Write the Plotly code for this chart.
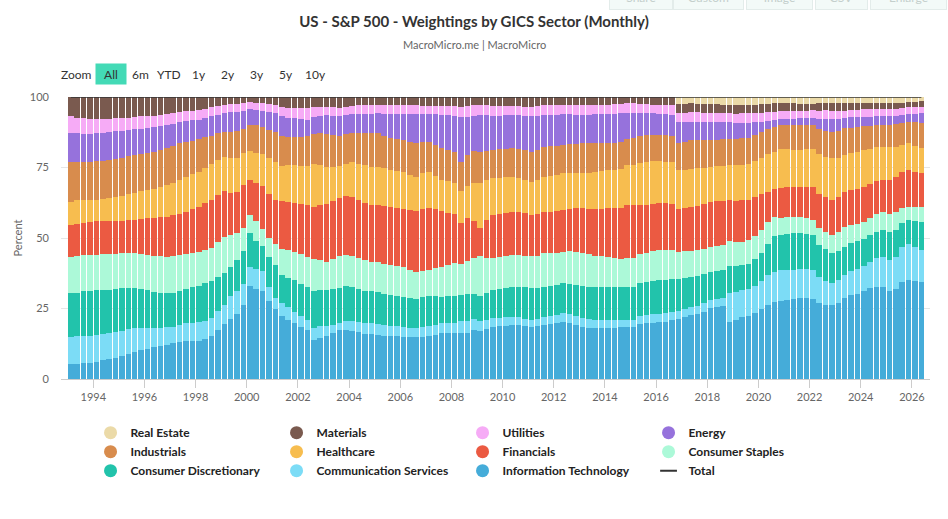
import pandas as pd
import plotly.graph_objects as go

# S&P 500 sector weights in %, one value per quarter, 1993Q1 .. 2026Q2
info_tech = [
    5.3, 5.4, 5.6, 5.8,  6.2, 6.8, 7.2, 7.6,  8.2, 8.9, 9.6, 10.2,  10.7, 11.3, 11.8, 12.2,
    12.6, 13.1, 13.4, 13.4,  13.6, 14.2, 15.2, 17.5,  19.4, 21.2, 23.2, 26.5,  33.0, 32.0, 31.2, 27.5,
    24.8, 22.3, 21.0, 19.8,  18.6, 17.2, 13.8, 14.5,  15.2, 16.2, 17.3, 17.6,  17.0, 16.5, 16.0, 15.8,
    15.5, 15.3, 15.2, 15.1,  15.0, 14.9, 15.0, 15.1,  15.3, 15.8, 16.3, 16.6,  16.4, 16.5, 16.5, 17.3,
    17.0, 17.8, 18.6, 18.8,  19.0, 19.1, 18.9, 18.7,  18.6, 18.7, 19.1, 19.3,  19.8, 20.3, 20.1, 19.2,
    18.5, 18.2, 18.0, 18.0,  18.0, 18.2, 18.5, 18.4,  18.3, 19.5, 19.8, 20.0,  20.1, 20.3, 20.9, 21.0,
    21.8, 22.5, 23.0, 23.8,  25.0, 25.5, 26.0, 20.3,  21.0, 22.0, 22.5, 23.5,  25.2, 26.5, 27.5, 27.8,
    28.0, 28.5, 28.8, 29.0,  28.5, 27.0, 26.5, 26.2,  27.0, 28.6, 29.5, 30.0,  31.0, 32.0, 32.5, 32.7,
    31.0, 31.5, 34.5, 35.0,  34.8, 34.5,
]
comm_services = [
    9.7, 9.8, 9.8, 9.6,  9.5, 9.2, 9.0, 9.0,  9.0, 8.9, 8.6, 7.9,  7.4, 6.9, 6.4, 6.1,
    6.0, 6.2, 6.4, 6.5,  6.5, 6.6, 6.6, 6.6,  6.8, 8.0, 8.2, 7.5,  6.6, 7.0, 7.0, 5.0,
    4.0, 4.6, 4.5, 4.1,  3.8, 3.5, 4.1, 4.1,  3.6, 3.0, 2.6, 3.2,  3.5, 3.6, 3.8, 4.0,
    4.0, 3.9, 3.7, 3.6,  3.5, 3.2, 3.0, 3.3,  3.4, 3.5, 3.5, 3.5,  3.6, 4.0, 4.0, 4.0,
    3.6, 3.2, 2.9, 2.9,  3.0, 3.0, 2.9, 2.7,  2.4, 2.6, 3.0, 3.0,  3.0, 3.0, 3.1, 3.2,
    3.2, 3.1, 3.0, 2.9,  2.9, 2.8, 2.7, 2.6,  2.6, 2.9, 3.0, 3.0,  3.0, 3.0, 3.0, 2.9,
    2.9, 2.9, 2.9, 2.9,  2.9, 2.9, 2.8, 10.6,  10.2, 9.6, 9.5, 9.8,  10.0, 10.5, 10.6, 10.7,
    10.6, 10.3, 10.3, 10.4,  10.4, 9.0, 8.5, 7.7,  7.9, 8.4, 8.6, 8.7,  8.8, 9.4, 10.2, 10.7,
    11.0, 11.2, 12.2, 12.8,  12.0, 11.2,
]
cons_discretionary = [
    15.4, 15.5, 15.7, 16.0,  16.0, 15.7, 15.4, 15.2,  15.0, 14.6, 14.2, 13.8,  13.4, 12.8, 12.3, 12.0,
    12.0, 12.0, 12.2, 12.6,  13.0, 13.4, 13.0, 12.0,  11.2, 10.6, 10.8, 11.4,  12.0, 10.0, 9.0, 10.5,
    11.5, 9.8, 10.5, 11.2,  11.5, 11.8, 12.8, 12.8,  12.5, 12.5, 12.5, 12.2,  12.0, 11.8, 11.5, 11.3,
    11.3, 11.0, 10.8, 10.7,  10.6, 10.6, 10.6, 10.6,  10.6, 10.2, 9.6, 9.5,  9.5, 9.5, 9.5, 9.0,
    9.0, 9.4, 10.1, 10.3,  10.5, 10.6, 10.8, 11.1,  11.3, 11.0, 10.6, 10.6,  10.6, 10.6, 10.8, 11.0,
    11.2, 11.4, 11.6, 11.8,  11.8, 11.8, 11.8, 11.8,  11.8, 11.8, 11.8, 11.8,  11.8, 11.8, 11.5, 11.3,
    11.0, 10.7, 10.5, 10.3,  10.1, 10.0, 10.0, 9.6,  9.2, 8.8, 9.0, 9.6,  10.0, 11.3, 12.5, 12.4,
    12.6, 13.0, 12.8, 12.5,  12.4, 11.5, 11.3, 10.7,  10.3, 10.0, 9.8, 9.6,  9.5, 9.3, 9.4, 9.6,
    9.8, 9.5, 8.6, 8.5,  9.2, 10.1,
]
cons_staples = [
    13.0, 13.0, 12.9, 12.7,  12.5, 12.6, 12.8, 12.7,  12.5, 12.2, 12.1, 12.3,  12.5, 12.8, 12.9, 13.0,
    13.0, 12.7, 12.5, 12.2,  12.0, 11.6, 11.6, 12.2,  12.5, 11.0, 9.8, 8.2,  6.5, 7.0, 6.0, 6.6,
    7.5, 9.2, 9.8, 10.2,  10.5, 10.8, 11.2, 10.5,  10.0, 10.6, 11.2, 11.3,  11.3, 11.0, 10.8, 10.6,
    10.6, 10.6, 10.6, 10.6,  10.5, 10.0, 9.5, 9.5,  9.5, 10.0, 10.6, 11.0,  11.5, 11.0, 12.0, 13.0,
    14.0, 12.5, 11.2, 11.2,  11.3, 11.3, 11.2, 11.2,  11.2, 11.5, 11.9, 11.6,  11.3, 11.3, 11.6, 11.9,
    11.9, 11.5, 11.0, 10.7,  10.7, 10.5, 10.2, 10.1,  10.1, 10.1, 10.3, 10.5,  10.6, 10.6, 10.2, 9.6,
    9.5, 9.4, 9.2, 9.0,  8.8, 8.8, 8.9, 8.9,  8.6, 8.3, 8.3, 8.3,  8.3, 7.6, 6.8, 6.2,
    5.9, 5.9, 5.8, 5.6,  5.5, 6.0, 6.3, 6.5,  6.8, 7.1, 6.5, 6.0,  5.9, 6.0, 6.3, 6.5,
    6.2, 6.0, 5.3, 4.8,  5.0, 5.3,
]
financials = [
    11.2, 11.2, 11.4, 11.7,  11.8, 11.8, 11.7, 11.6,  11.5, 11.7, 12.0, 12.6,  13.0, 13.4, 13.9, 14.2,
    14.5, 14.6, 14.7, 15.3,  16.0, 16.8, 17.3, 16.8,  16.5, 15.0, 14.5, 15.5,  12.5, 13.5, 15.0, 15.4,
    15.5, 17.0, 17.2, 17.2,  17.8, 18.3, 18.3, 19.2,  20.5, 20.7, 20.7, 20.7,  20.9, 20.6, 20.3, 20.2,
    20.1, 20.3, 20.5, 20.7,  20.8, 21.2, 21.5, 21.8,  21.8, 20.8, 19.8, 18.8,  17.5, 14.5, 15.0, 13.0,
    10.0, 13.5, 15.4, 15.4,  15.3, 15.3, 15.1, 15.0,  14.8, 14.8, 14.7, 14.7,  14.7, 14.7, 15.0, 15.5,
    15.9, 16.3, 16.7, 17.0,  17.1, 17.5, 18.2, 18.7,  18.9, 17.5, 17.0, 16.8,  16.7, 16.6, 16.5, 15.0,
    15.0, 15.4, 15.6, 15.8,  16.0, 15.8, 15.6, 14.8,  14.8, 14.8, 14.5, 14.0,  13.0, 11.0, 10.2, 10.4,
    10.6, 10.6, 10.8, 11.2,  11.8, 12.0, 12.3, 12.4,  12.4, 12.4, 12.4, 12.4,  12.4, 12.0, 11.6, 11.3,
    12.0, 12.5, 13.0, 13.0,  12.5, 11.8,
]
health_care = [
    8.4, 8.5, 8.2, 7.8,  7.7, 7.8, 8.0, 8.5,  9.0, 9.3, 9.5, 9.8,  10.0, 10.4, 10.8, 11.2,
    11.5, 12.0, 12.3, 12.4,  12.5, 12.5, 12.5, 12.2,  11.8, 12.3, 12.2, 11.2,  10.3, 10.6, 11.5, 12.8,
    13.6, 12.6, 13.0, 13.6,  13.6, 13.6, 15.0, 14.0,  13.0, 12.0, 11.3, 11.6,  12.3, 12.8, 13.2, 13.5,
    13.6, 13.4, 13.2, 13.0,  13.0, 12.5, 12.4, 12.8,  13.0, 12.0, 11.3, 11.2,  11.0, 11.5, 11.5, 13.5,
    16.0, 14.0, 13.0, 12.8,  12.6, 12.4, 12.0, 11.8,  11.8, 12.0, 12.4, 12.6,  12.8, 13.0, 12.8, 12.5,
    12.4, 12.8, 13.2, 13.4,  13.6, 13.8, 14.0, 14.2,  14.2, 15.2, 15.4, 15.0,  14.8, 14.8, 14.6, 13.6,
    13.6, 13.6, 13.2, 12.8,  12.4, 12.4, 12.6, 12.5,  12.6, 12.4, 12.6, 12.8,  13.0, 13.4, 13.1, 14.0,
    13.5, 13.0, 13.2, 13.4,  13.6, 14.2, 14.6, 14.8,  14.0, 13.0, 13.0, 13.0,  13.0, 12.4, 12.0, 11.8,
    11.5, 10.5, 9.5, 9.5,  9.2, 8.9,
]
industrials = [
    14.0, 13.6, 13.5, 13.6,  13.7, 13.6, 13.5, 13.5,  13.5, 13.6, 13.5, 13.2,  13.0, 13.0, 13.0, 13.0,
    13.0, 13.0, 12.6, 12.0,  11.5, 10.8, 10.2, 9.5,  8.9, 9.2, 9.4, 8.7,  9.3, 10.0, 9.5, 10.0,
    10.6, 10.6, 10.2, 10.0,  10.3, 10.6, 10.6, 11.2,  11.8, 11.2, 10.6, 10.5,  10.5, 11.0, 11.4, 11.8,
    11.8, 11.6, 11.4, 11.3,  11.3, 11.7, 11.9, 11.2,  10.7, 11.0, 11.2, 11.1,  11.0, 10.5, 11.0, 11.5,
    11.0, 10.4, 10.0, 10.0,  10.1, 10.1, 10.3, 10.5,  10.6, 10.7, 10.7, 10.5,  10.3, 10.1, 10.3, 10.5,
    10.7, 10.4, 10.0, 9.7,  9.5, 9.4, 9.4, 9.4,  9.4, 9.4, 9.4, 9.4,  9.4, 9.4, 9.4, 9.7,
    9.9, 10.1, 10.0, 9.8,  9.5, 9.5, 9.5, 9.5,  9.5, 9.4, 9.4, 9.4,  9.4, 9.1, 8.9, 8.4,
    8.5, 8.9, 8.7, 8.5,  8.5, 8.8, 9.1, 9.4,  9.4, 9.5, 9.0, 8.7,  8.5, 8.2, 7.9, 7.7,
    7.8, 7.8, 7.7, 7.7,  8.3, 8.9,
]
energy = [
    10.4, 10.2, 10.0, 9.9,  9.9, 10.0, 10.0, 9.8,  9.5, 9.0, 8.9, 9.0,  9.0, 8.8, 8.5, 8.2,
    7.8, 7.5, 7.3, 7.1,  7.0, 6.9, 6.8, 6.6,  6.5, 7.1, 7.0, 6.5,  5.5, 5.4, 5.7, 6.2,
    6.5, 7.1, 6.8, 6.5,  6.2, 5.9, 5.9, 6.2,  6.5, 6.8, 7.1, 6.9,  6.5, 6.7, 6.9, 7.0,
    7.1, 7.8, 8.5, 9.0,  9.2, 10.0, 10.4, 10.0,  9.8, 10.8, 11.8, 12.4,  12.8, 16.0, 13.5, 12.6,
    13.0, 12.6, 12.1, 12.0,  11.9, 11.8, 11.8, 12.2,  12.7, 12.2, 11.2, 11.1,  11.0, 11.0, 10.6, 10.3,
    10.0, 10.1, 10.3, 10.4,  10.4, 10.6, 10.4, 9.0,  8.9, 8.2, 7.9, 7.6,  7.5, 7.7, 7.5, 7.1,
    6.8, 6.5, 6.5, 6.5,  6.5, 6.3, 6.1, 5.9,  5.6, 5.4, 5.2, 4.6,  3.6, 2.8, 2.3, 2.3,
    2.3, 2.3, 2.4, 2.5,  2.5, 3.8, 4.3, 4.4,  4.2, 3.5, 3.6, 3.6,  3.3, 3.4, 3.2, 3.2,
    3.2, 3.0, 2.9, 2.7,  3.0, 3.5,
]
utilities = [
    5.9, 5.6, 5.4, 5.2,  5.0, 4.9, 4.8, 4.7,  4.6, 4.5, 4.4, 4.3,  4.2, 4.1, 4.0, 3.9,
    3.8, 3.6, 3.5, 3.5,  3.5, 3.4, 3.3, 3.1,  3.0, 2.8, 2.7, 2.6,  2.5, 2.6, 2.8, 2.9,
    3.0, 3.0, 3.3, 3.6,  3.9, 4.0, 3.6, 3.2,  3.0, 3.0, 3.0, 3.0,  3.0, 3.0, 3.0, 3.0,
    3.0, 3.1, 3.2, 3.2,  3.2, 3.1, 3.0, 2.9,  2.8, 3.0, 3.2, 3.3,  3.4, 3.6, 4.0, 3.6,
    3.6, 3.5, 3.5, 3.4,  3.3, 3.2, 3.2, 3.3,  3.3, 3.5, 3.6, 3.5,  3.4, 3.2, 3.2, 3.3,
    3.4, 3.3, 3.2, 3.2,  3.2, 3.3, 3.4, 3.5,  3.6, 3.2, 3.1, 3.1,  3.1, 3.1, 3.4, 3.3,
    3.4, 3.5, 3.3, 3.1,  2.9, 3.0, 3.1, 3.3,  3.4, 3.5, 3.5, 3.4,  3.3, 3.1, 3.0, 2.8,
    2.8, 2.8, 2.7, 2.7,  2.7, 2.9, 3.1, 3.1,  3.0, 2.8, 2.6, 2.5,  2.6, 2.5, 2.4, 2.4,
    2.5, 2.4, 2.4, 2.3,  2.3, 2.4,
]
materials = [
    6.8, 7.3, 7.6, 7.8,  7.9, 7.8, 7.7, 7.5,  7.4, 7.3, 7.1, 6.9,  6.8, 6.6, 6.3, 6.0,
    5.8, 5.4, 5.1, 4.8,  4.5, 4.1, 3.6, 3.2,  2.8, 2.6, 2.5, 2.3,  1.8, 2.0, 2.0, 2.4,
    2.8, 3.6, 4.0, 4.0,  4.0, 4.0, 3.5, 3.4,  3.4, 3.7, 3.9, 3.4,  3.1, 3.0, 2.9, 2.9,
    2.8, 2.8, 2.8, 2.8,  2.8, 2.9, 3.0, 3.1,  3.2, 3.2, 3.2, 3.3,  3.3, 3.4, 3.1, 3.0,
    2.8, 3.0, 3.2, 3.2,  3.2, 3.2, 3.3, 3.4,  3.4, 3.2, 2.9, 2.8,  2.8, 2.8, 2.9, 3.0,
    3.0, 3.0, 2.9, 2.8,  2.8, 2.6, 2.5, 2.3,  2.2, 2.5, 2.6, 2.7,  2.8, 2.8, 2.9, 3.0,
    3.0, 3.0, 3.1, 3.2,  3.3, 3.2, 3.1, 3.0,  3.0, 3.0, 3.0, 3.0,  3.0, 3.0, 3.0, 2.7,
    2.6, 2.6, 2.5, 2.4,  2.4, 2.5, 2.6, 2.6,  2.6, 2.6, 2.5, 2.4,  2.4, 2.4, 2.3, 2.3,
    2.2, 2.1, 2.0, 1.9,  2.0, 2.0,
]
# Real Estate became its own sector in 2016Q4
real_estate = [None] * 95 + [
    2.6,
    2.5, 2.3, 2.3, 2.4,  2.5, 2.6, 2.7, 2.8,  2.9, 2.8, 2.8, 2.7,  2.6, 2.4, 2.2, 2.2,
    2.2, 2.3, 2.4, 2.5,  2.4, 2.3, 2.2, 2.2,  2.3, 2.2, 2.1, 2.1,  2.0, 2.0, 2.0, 2.0,
    2.0, 2.0, 2.0, 1.8,  1.6, 1.4,
]
total = [100.0] * len(info_tech)

dates = pd.date_range("1993-01-01", periods=len(info_tech), freq="QS") + pd.Timedelta(days=45)
bar_width = 80 * 24 * 3600 * 1000  # ms

# bottom -> top of the stack
sectors = [
    ("Information Technology", info_tech, "#45acd9"),
    ("Communication Services", comm_services, "#7cdcf6"),
    ("Consumer Discretionary", cons_discretionary, "#22c3ab"),
    ("Consumer Staples", cons_staples, "#acf9d8"),
    ("Financials", financials, "#eb5a42"),
    ("Healthcare", health_care, "#f7bd4f"),
    ("Industrials", industrials, "#d88c4d"),
    ("Energy", energy, "#9672dc"),
    ("Utilities", utilities, "#f6abf6"),
    ("Materials", materials, "#7a5a4f"),
    ("Real Estate", real_estate, "#ebdaa8"),
]

fig = go.Figure()

for name, vals, color in sectors:
    fig.add_trace(go.Bar(
        x=dates, y=vals, name=name, width=bar_width,
        marker_color=color, marker_line_width=0,
        legendgroup=name, showlegend=False,
        hovertemplate="%{y:.1f}%<extra>" + name + "</extra>",
    ))

fig.add_trace(go.Scatter(
    x=dates, y=total, name="Total", mode="lines",
    line=dict(color="#333333", width=1.5), cliponaxis=False,
    legendgroup="Total", showlegend=False,
))

# legend entries (round markers like the original)
for name, vals, color in sectors[::-1]:
    fig.add_trace(go.Scatter(
        x=[None], y=[None], mode="markers", name=name, legendgroup=name,
        marker=dict(symbol="circle", size=13, color=color),
    ))
fig.add_trace(go.Scatter(
    x=[None], y=[None], mode="markers", name="Total", legendgroup="Total",
    marker=dict(symbol="line-ew", size=12, line=dict(color="#333333", width=2)),
))

font_family = "Lato, 'Open Sans', sans-serif"


def paper_x(px):
    return (px - 61) / 868


def paper_y(py):
    return (379 - py) / 282


# range buttons and toolbar, drawn as annotations
annotations = [
    dict(text="MacroMicro.me | MacroMicro", x=paper_x(474), y=paper_y(45),
         font=dict(size=11, color="#666666")),
    dict(text="Zoom", x=paper_x(76), y=paper_y(74), font=dict(size=12, color="#333333")),
]
btn_labels = ["All", "6m", "YTD", "1y", "2y", "3y", "5y", "10y"]
btn_px = [111, 140, 169, 199, 228, 257, 286, 315]
for label, px in zip(btn_labels, btn_px):
    a = dict(text=label, x=paper_x(px), y=paper_y(74), font=dict(size=12, color="#333333"))
    if label == "All":
        a.update(bgcolor="#43dab6", width=28, height=18)
    annotations.append(a)
tool_labels = ["Share", "Custom", "Image", "CSV", "Enlarge"]
tool_px = [640, 708, 779, 841, 908]
tool_w = [60, 67, 63, 49, 73]
for label, px, w in zip(tool_labels, tool_px, tool_w):
    annotations.append(dict(
        text=label, x=paper_x(px), y=paper_y(-3),
        font=dict(size=12, color="#c4cfcc"),
        bgcolor="#f3faf8", bordercolor="#e3ecea", borderwidth=1, width=w, height=22,
    ))
for a in annotations:
    a.update(xref="paper", yref="paper", xanchor="center", yanchor="middle", showarrow=False)

fig.update_layout(
    width=948, height=519,
    margin=dict(l=61, r=18, t=97, b=140, autoexpand=False),
    paper_bgcolor="white", plot_bgcolor="white",
    font=dict(family=font_family, size=11, color="#666666"),
    title=dict(
        text="US - S&P 500 - Weightings by GICS Sector (Monthly)",
        x=0.5, xref="container", xanchor="center",
        y=1 - 22 / 519, yref="container", yanchor="middle",
        font=dict(size=15, color="#333333", weight="bold"),
    ),
    barmode="stack", barnorm="percent",
    hovermode="x",
    showlegend=True,
    legend=dict(
        orientation="h", x=0.034, xanchor="left", y=-0.139, yanchor="top",
        entrywidth=141, traceorder="normal",
        font=dict(size=12, color="#222222", weight="bold"),
        bgcolor="rgba(0,0,0,0)",
    ),
    annotations=annotations,
)

fig.update_xaxes(
    type="date", range=["1992-09-27", "2026-09-16"],
    tick0="1994-01-01", dtick="M24", tickformat="%Y",
    ticks="outside", ticklen=8, tickcolor="#cccccc",
    showline=True, linecolor="#cccccc", linewidth=1,
    showgrid=False, tickfont=dict(size=11, color="#666666"),
    automargin=False,
)
fig.update_yaxes(
    range=[0, 100], tickvals=[0, 25, 50, 75, 100],
    showgrid=True, gridcolor="#e6e6e6", zeroline=False,
    ticklabelstandoff=11,
    title=dict(text="Percent", font=dict(size=11, color="#666666"), standoff=5),
    tickfont=dict(size=11, color="#666666"),
    automargin=False,
)

# the page body has a default 8px margin; drop it so the chart sits at the window origin
fig.write_html(
    "out.html",
    config={"displayModeBar": False},
    post_script="document.body.style.margin='0';",
)
